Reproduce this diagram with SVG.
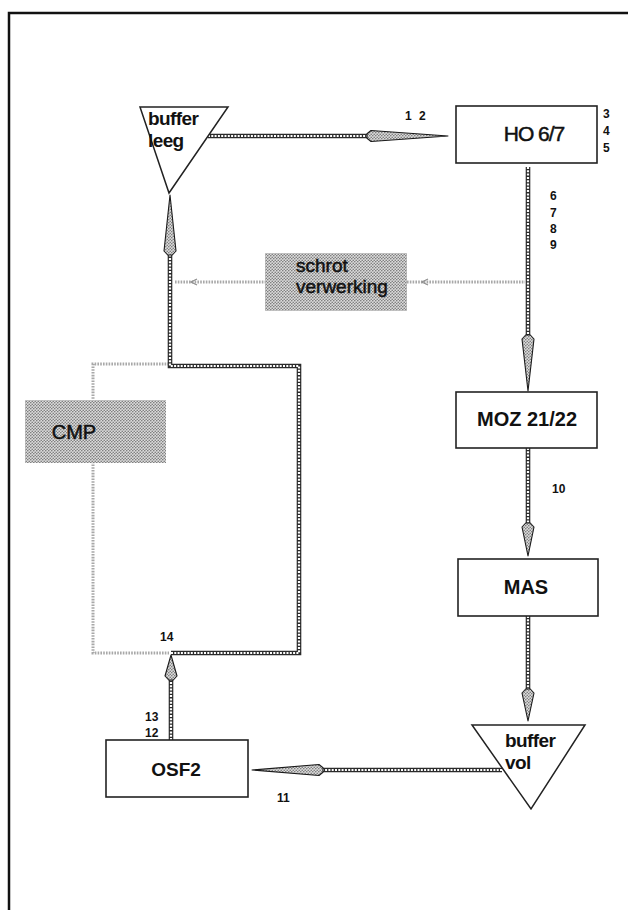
<svg xmlns="http://www.w3.org/2000/svg" width="628" height="910" viewBox="0 0 628 910">
<defs>
<pattern id="half" width="3" height="3" patternUnits="userSpaceOnUse">
<rect width="3" height="3" fill="#dcdcdc"/>
<circle cx="0.75" cy="0.75" r="0.8" fill="#7a7a7a"/>
<circle cx="2.25" cy="2.25" r="0.8" fill="#7a7a7a"/>
</pattern>
<style>
.frame{fill:none;stroke:#111;stroke-width:2.5}
.box{fill:#fff;stroke:#222;stroke-width:1.6}
.tri{fill:#fff;stroke:#222;stroke-width:1.5}
.shade{fill:url(#half);stroke:none}
.lbl{font-family:"Liberation Sans",Arial,sans-serif;fill:#111}
.big{font-size:20px;font-weight:bold}
.reg{font-size:20px}
.heavy{stroke:#111;stroke-width:0.5}
.buf{font-size:19px;font-weight:bold;letter-spacing:-0.6px}
.num{font-size:12px;font-weight:bold}
.rib{fill:none;stroke:#2a2a2a;stroke-width:4.6}
.ribw{fill:none;stroke:#fff;stroke-width:2.2;stroke-dasharray:2 1.3}
.dot{fill:none;stroke:#a8a8a8;stroke-width:3;stroke-dasharray:1.6 1.2}
.chev{fill:none;stroke:#909090;stroke-width:1.3}
.head{fill:url(#half);stroke:#1a1a1a;stroke-width:1.1;stroke-linejoin:round}
</style>
</defs>
<rect width="628" height="910" fill="#fff"/>
<path class="frame" d="M9,910 L9,13 L628,13"/>

<g id="connectors">
<path class="dot" d="M175,282 L265,282 M407,282 L525,282"/>
<path class="chev" d="M197,279 L191,282 L197,285 M428,279 L422,282 L428,285"/>
<path class="dot" d="M169,364 L93,364 L93,653 L169,653"/>
<path class="rib" d="M208,136 L368,136"/>
<path class="ribw" d="M208,136 L368,136"/>
<path class="rib" d="M528,167 L528,336"/>
<path class="ribw" d="M528,167 L528,336"/>
<path class="rib" d="M528,448 L528,524"/>
<path class="ribw" d="M528,448 L528,524"/>
<path class="rib" d="M528,616 L528,690"/>
<path class="ribw" d="M528,616 L528,690"/>
<path class="rib" d="M502,770 L322,770"/>
<path class="ribw" d="M502,770 L322,770"/>
<path class="rib" d="M171,740 L171,679"/>
<path class="ribw" d="M171,740 L171,679"/>
<path class="rib" d="M171,653 L299,653 L299,366 L170,366 L170,254"/>
<path class="ribw" d="M171,653 L299,653 L299,366 L170,366 L170,254"/>
<polygon class="head" points="367,133.7 371,130.5 448,136 371,141.5 367,138.3"/>
<polygon class="head" points="525.7,335 522,339 528,391 534,339 530.3,335"/>
<polygon class="head" points="525.7,523 522,527 528,556 534,527 530.3,523"/>
<polygon class="head" points="525.7,689 522,693 528,721 534,693 530.3,689"/>
<polygon class="head" points="323,767.7 319,764.5 252,770 319,775.5 323,772.3"/>
<polygon class="head" points="167.7,255 164,251 170,195 176,251 172.3,255"/>
<polygon class="head" points="168.7,680 165,676 171,655 177,676 173.3,680"/>
</g>

<g id="buffer-leeg">
<polygon class="tri" points="140,107 228,107 169,193"/>
<text class="lbl buf" x="148" y="125">buffer</text>
<text class="lbl buf" x="148" y="147">leeg</text>
</g>

<g id="ho67">
<rect class="box" x="456" y="106" width="141" height="57"/>
<text class="lbl reg heavy" x="534" y="141" text-anchor="middle" style="font-size:21px;letter-spacing:-1px">HO 6/7</text>
</g>

<g id="schrot">
<rect class="shade" x="265" y="253" width="142" height="58"/>
<text class="lbl reg heavy" x="296" y="272" style="font-size:19px">schrot</text>
<text class="lbl reg heavy" x="296" y="293" style="font-size:19px">verwerking</text>
</g>

<g id="cmp">
<rect class="shade" x="25" y="400" width="141" height="63"/>
<text class="lbl reg heavy" x="74" y="439" text-anchor="middle">CMP</text>
</g>

<g id="moz">
<rect class="box" x="456" y="392" width="141" height="56"/>
<text class="lbl big" x="527" y="426" text-anchor="middle">MOZ 21/22</text>
</g>

<g id="mas">
<rect class="box" x="458" y="559" width="140" height="57"/>
<text class="lbl big" x="526" y="594" text-anchor="middle">MAS</text>
</g>

<g id="buffer-vol">
<polygon class="tri" points="472,725 585,725 531,809"/>
<text class="lbl buf" x="505" y="747">buffer</text>
<text class="lbl buf" x="505" y="769">vol</text>
</g>

<g id="osf2">
<rect class="box" x="106" y="740" width="142" height="57"/>
<text class="lbl big" x="176" y="776" text-anchor="middle" style="font-size:19px">OSF2</text>
</g>

<g id="labels">
<text class="lbl num" x="405" y="120">1</text>
<text class="lbl num" x="419" y="120">2</text>
<text class="lbl num" x="603" y="118">3</text>
<text class="lbl num" x="603" y="135">4</text>
<text class="lbl num" x="603" y="152">5</text>
<text class="lbl num" x="550" y="200">6</text>
<text class="lbl num" x="550" y="217">7</text>
<text class="lbl num" x="550" y="233">8</text>
<text class="lbl num" x="550" y="249">9</text>
<text class="lbl num" x="552" y="493">10</text>
<text class="lbl num" x="277" y="802">11</text>
<text class="lbl num" x="145" y="737">12</text>
<text class="lbl num" x="145" y="721">13</text>
<text class="lbl num" x="160" y="641">14</text>
</g>
</svg>
